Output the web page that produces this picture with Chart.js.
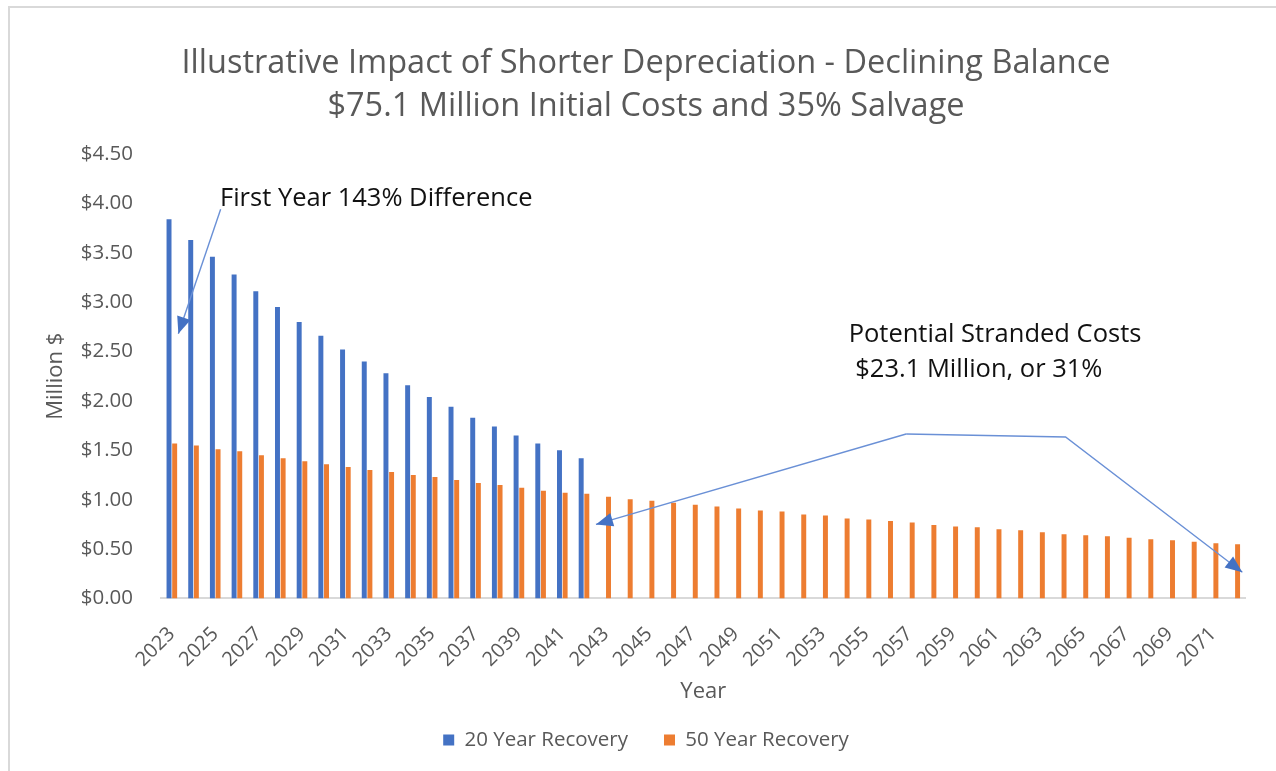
<!DOCTYPE html>
<html>
<head>
<meta charset="utf-8">
<script src="https://cdn.jsdelivr.net/npm/chart.js@4/dist/chart.umd.min.js"></script>
<style>
  html, body { margin: 0; padding: 0; background: #fff; }
  #wrap { position: relative; width: 1276px; height: 771px; }
</style>
</head>
<body>
<div id="wrap"><canvas id="c" width="1276" height="771"></canvas></div>
<script>
// ---- data ----
const years = [];
for (let y = 2023; y <= 2072; y++) years.push(String(y));

const recovery20 = [3.84, 3.63, 3.46, 3.28, 3.11, 2.95, 2.80, 2.66, 2.52, 2.40,
                    2.28, 2.16, 2.04, 1.94, 1.83, 1.74, 1.65, 1.57, 1.50, 1.42];

const recovery50 = [1.57, 1.55, 1.51, 1.49, 1.45, 1.42, 1.39, 1.36, 1.33, 1.30,
                    1.28, 1.25, 1.23, 1.20, 1.17, 1.15, 1.12, 1.09, 1.07, 1.06,
                    1.03, 1.005, 0.99, 0.97, 0.95, 0.93, 0.91, 0.89, 0.88, 0.85,
                    0.84, 0.81, 0.80, 0.785, 0.77, 0.745, 0.73, 0.72, 0.70, 0.69,
                    0.67, 0.65, 0.64, 0.63, 0.615, 0.60, 0.59, 0.575, 0.56, 0.55];

const seriesNames = ['20 Year Recovery', '50 Year Recovery'];
const titleLines = ['Illustrative Impact of Shorter Depreciation - Declining Balance',
                    '$75.1 Million Initial Costs and 35% Salvage'];
const note1 = 'First Year 143% Difference';
const note2 = ['Potential Stranded Costs', ' $23.1 Million, or 31%'];

const FONT = '"Open Sans", Lato, sans-serif';
const BLUE = '#4472C4';
const ORANGE = '#ED7D31';
const GREY = '#595959';

// annotation anchors in data space (category index, value)
const arrow1 = { from: [2.25, 3.94], to: [0.3, 2.68] };
const note1Pos = [2.22, 4.05];
const note2Pos = [31.2, 2.67];
const strandPath = [[19.55, 0.75], [33.85, 1.665], [41.2, 1.635], [49.35, 0.265]];

function arrowHead(ctx, x0, y0, x1, y1) {
  const ang = Math.atan2(y1 - y0, x1 - x0);
  const len = 17, half = 7;
  ctx.save();
  ctx.translate(x1, y1);
  ctx.rotate(ang);
  ctx.beginPath();
  ctx.moveTo(0, 0);
  ctx.lineTo(-len, -half);
  ctx.lineTo(-len, half);
  ctx.closePath();
  ctx.fillStyle = BLUE;
  ctx.fill();
  ctx.restore();
}

const annotations = {
  id: 'annotations',
  beforeDraw(chart) {
    const ctx = chart.ctx;
    ctx.save();
    ctx.strokeStyle = '#d9d9d9';
    ctx.lineWidth = 2;
    ctx.strokeRect(9, 7, 1400, 900);
    ctx.restore();
  },
  afterDatasetsDraw(chart) {
    const ctx = chart.ctx, xs = chart.scales.x, ys = chart.scales.y;
    const P = p => [xs.getPixelForValue(p[0]), ys.getPixelForValue(p[1])];
    ctx.save();
    ctx.strokeStyle = '#6a90d6';
    ctx.lineWidth = 1.4;
    const a = P(arrow1.from), b = P(arrow1.to);
    ctx.beginPath(); ctx.moveTo(a[0], a[1]); ctx.lineTo(b[0], b[1]); ctx.stroke();
    arrowHead(ctx, a[0], a[1], b[0], b[1]);
    const pts = strandPath.map(P);
    ctx.beginPath();
    ctx.moveTo(pts[1][0], pts[1][1]); ctx.lineTo(pts[0][0], pts[0][1]);
    ctx.stroke();
    arrowHead(ctx, pts[1][0], pts[1][1], pts[0][0], pts[0][1]);
    ctx.beginPath();
    ctx.moveTo(pts[1][0], pts[1][1]);
    ctx.lineTo(pts[2][0], pts[2][1]);
    ctx.lineTo(pts[3][0], pts[3][1]);
    ctx.stroke();
    arrowHead(ctx, pts[2][0], pts[2][1], pts[3][0], pts[3][1]);
    ctx.fillStyle = '#111';
    ctx.font = '25.5px ' + FONT;
    ctx.textBaseline = 'middle';
    ctx.textAlign = 'left';
    const t1 = P(note1Pos);
    ctx.fillText(note1, t1[0], t1[1]);
    const t2 = P(note2Pos);
    ctx.fillText(note2[0], t2[0], t2[1]);
    ctx.fillText(note2[1], t2[0], t2[1] + 35);
    ctx.restore();
  }
};

new Chart(document.getElementById('c'), {
  type: 'bar',
  data: {
    labels: years,
    datasets: [
      { label: seriesNames[0], data: recovery20, backgroundColor: BLUE,
        categoryPercentage: 0.52, barPercentage: 0.88 },
      { label: seriesNames[1], data: recovery50, backgroundColor: ORANGE,
        categoryPercentage: 0.52, barPercentage: 0.88 }
    ]
  },
  options: {
    responsive: false,
    animation: false,
    layout: { padding: { left: 43, right: 27, top: 0, bottom: 10.75 } },
    plugins: {
      tooltip: { enabled: false },
      title: {
        display: true,
        text: titleLines,
        color: GREY,
        font: { family: FONT, size: 32.5, weight: 'normal', lineHeight: 1.323 },
        padding: { top: 42.5, bottom: 25.5 }
      },
      legend: {
        position: 'bottom',
        labels: {
          color: GREY,
          font: { family: FONT, size: 20.5 },
          boxWidth: 11, boxHeight: 11,
          padding: 36
        }
      }
    },
    scales: {
      x: {
        grid: { display: false, drawTicks: false },
        border: { display: true, color: '#d9d9d9', width: 2 },
        ticks: {
          color: GREY,
          font: { family: FONT, size: 20 },
          autoSkip: false,
          minRotation: 45, maxRotation: 45,
          padding: 24,
          callback: function (v, i) { return i % 2 === 0 ? this.getLabelForValue(v) : ''; }
        },
        title: { display: true, text: 'Year', color: GREY,
                 font: { family: FONT, size: 22 }, padding: { top: -17, bottom: -11.45 } }
      },
      y: {
        min: 0, max: 4.5,
        grid: { display: false, drawTicks: false },
        border: { display: false },
        afterFit: s => { s.width = 118; },
        ticks: {
          stepSize: 0.5,
          color: GREY,
          font: { family: FONT, size: 20.5 },
          padding: 28,
          callback: v => '$' + Number(v).toFixed(2)
        },
        title: { display: true, text: 'Million $', color: GREY,
                 font: { family: FONT, size: 22 }, padding: { top: 0, bottom: 8 } }
      }
    }
  },
  plugins: [annotations]
});
</script>
</body>
</html>
